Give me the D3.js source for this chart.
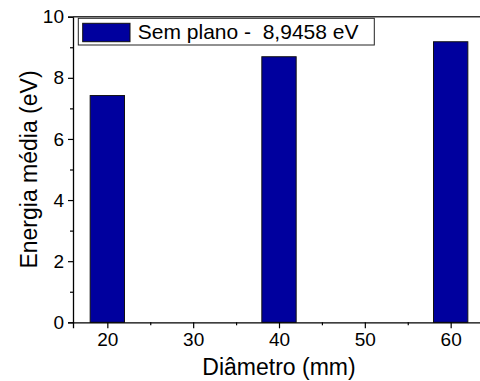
<!DOCTYPE html>
<html>
<head>
<meta charset="utf-8">
<script src="https://cdn.jsdelivr.net/npm/d3@7"></script>
<style>
  body { margin: 0; background: #fff; }
  text { font-family: Arial, "Liberation Sans", sans-serif; fill: #000; }
</style>
</head>
<body>
<div id="grafica"></div>
<script>
// data
var diametros = [20, 40, 60];
var energias = [7.42, 8.69, 9.18];
var xTicks = [20, 30, 40, 50, 60];
var xMinor = [25, 35, 45, 55];
var yTicks = [0, 2, 4, 6, 8, 10];
var yMinor = [1, 3, 5, 7, 9];
var legenda = "Sem plano -  8,9458 eV";
var barWidth = 4; // in mm units

var W = 480, H = 381;
var margin = {top: 16.7, left: 73, right: -5, bottom: 58.7};
var width = W - margin.left - margin.right,
    height = H - margin.top - margin.bottom;

var svg = d3.select("#grafica").append("svg")
    .attr("width", W).attr("height", H)
  .append("g")
    .attr("transform", "translate(" + margin.left + "," + margin.top + ")");

var x = d3.scaleLinear().domain([16, 64]).range([0, width]);
var y = d3.scaleLinear().domain([0, 10]).range([height, 0]);

// bars
svg.selectAll("rect.bar")
  .data(diametros)
  .enter().append("rect")
    .attr("class", "bar")
    .attr("x", function(d) { return x(d - barWidth / 2); })
    .attr("width", function(d) { return x(d + barWidth / 2) - x(d - barWidth / 2); })
    .attr("y", function(d, i) { return y(energias[i]); })
    .attr("height", function(d, i) { return height - y(energias[i]); })
    .style("fill", "#00009E")
    .style("stroke", "#111")
    .style("stroke-width", 1);

// x axis
var xAxis = svg.append("g")
  .attr("transform", "translate(0," + height + ")")
  .call(d3.axisBottom(x).tickValues(xTicks).tickSize(6).tickPadding(4).tickFormat(d3.format("d")));
svg.append("g")
  .attr("transform", "translate(0," + height + ")")
  .call(d3.axisBottom(x).tickValues(xMinor).tickSize(3).tickFormat(""))
  .select(".domain").remove();

// y axis
var yAxis = svg.append("g")
  .call(d3.axisLeft(y).tickValues(yTicks).tickSize(5).tickPadding(4).tickFormat(d3.format("d")));
svg.append("g")
  .call(d3.axisLeft(y).tickValues(yMinor).tickSize(3).tickFormat(""))
  .select(".domain").remove();

svg.selectAll(".domain").attr("stroke-width", 1.3).attr("stroke", "#000");
svg.selectAll(".tick line").attr("stroke-width", 1.2).attr("stroke", "#000");
svg.selectAll(".tick text").style("font-size", "19px").style("font-family", "Arial, 'Liberation Sans', sans-serif");

// top frame line
svg.append("line")
  .attr("x1", 0).attr("x2", width)
  .attr("y1", 0).attr("y2", 0)
  .attr("stroke", "#333").attr("stroke-width", 1.5);

// axis titles
svg.append("text")
  .attr("x", width / 2)
  .attr("y", height + 53)
  .attr("text-anchor", "middle")
  .style("font-size", "23px")
  .text("Diâmetro (mm)");

svg.append("text")
  .attr("transform", "translate(" + (-36) + "," + (height / 2) + ") rotate(-90)")
  .attr("text-anchor", "middle")
  .style("font-size", "23px")
  .text("Energia média (eV)");

// legend
var leg = svg.append("g").attr("transform", "translate(5.3,1.6)");
leg.append("rect")
  .attr("x", 0).attr("y", 0)
  .attr("width", 296).attr("height", 26.7)
  .style("fill", "#fff").style("stroke", "#222").style("stroke-width", 1);
leg.append("rect")
  .attr("x", 4.4).attr("y", 5)
  .attr("width", 47.3).attr("height", 18.4)
  .style("fill", "#00009E").style("stroke", "#111").style("stroke-width", 1);
leg.append("text")
  .attr("x", 59.5).attr("y", 21.2)
  .style("font-size", "21px")
  .style("white-space", "pre")
  .text(legenda);
</script>
</body>
</html>
